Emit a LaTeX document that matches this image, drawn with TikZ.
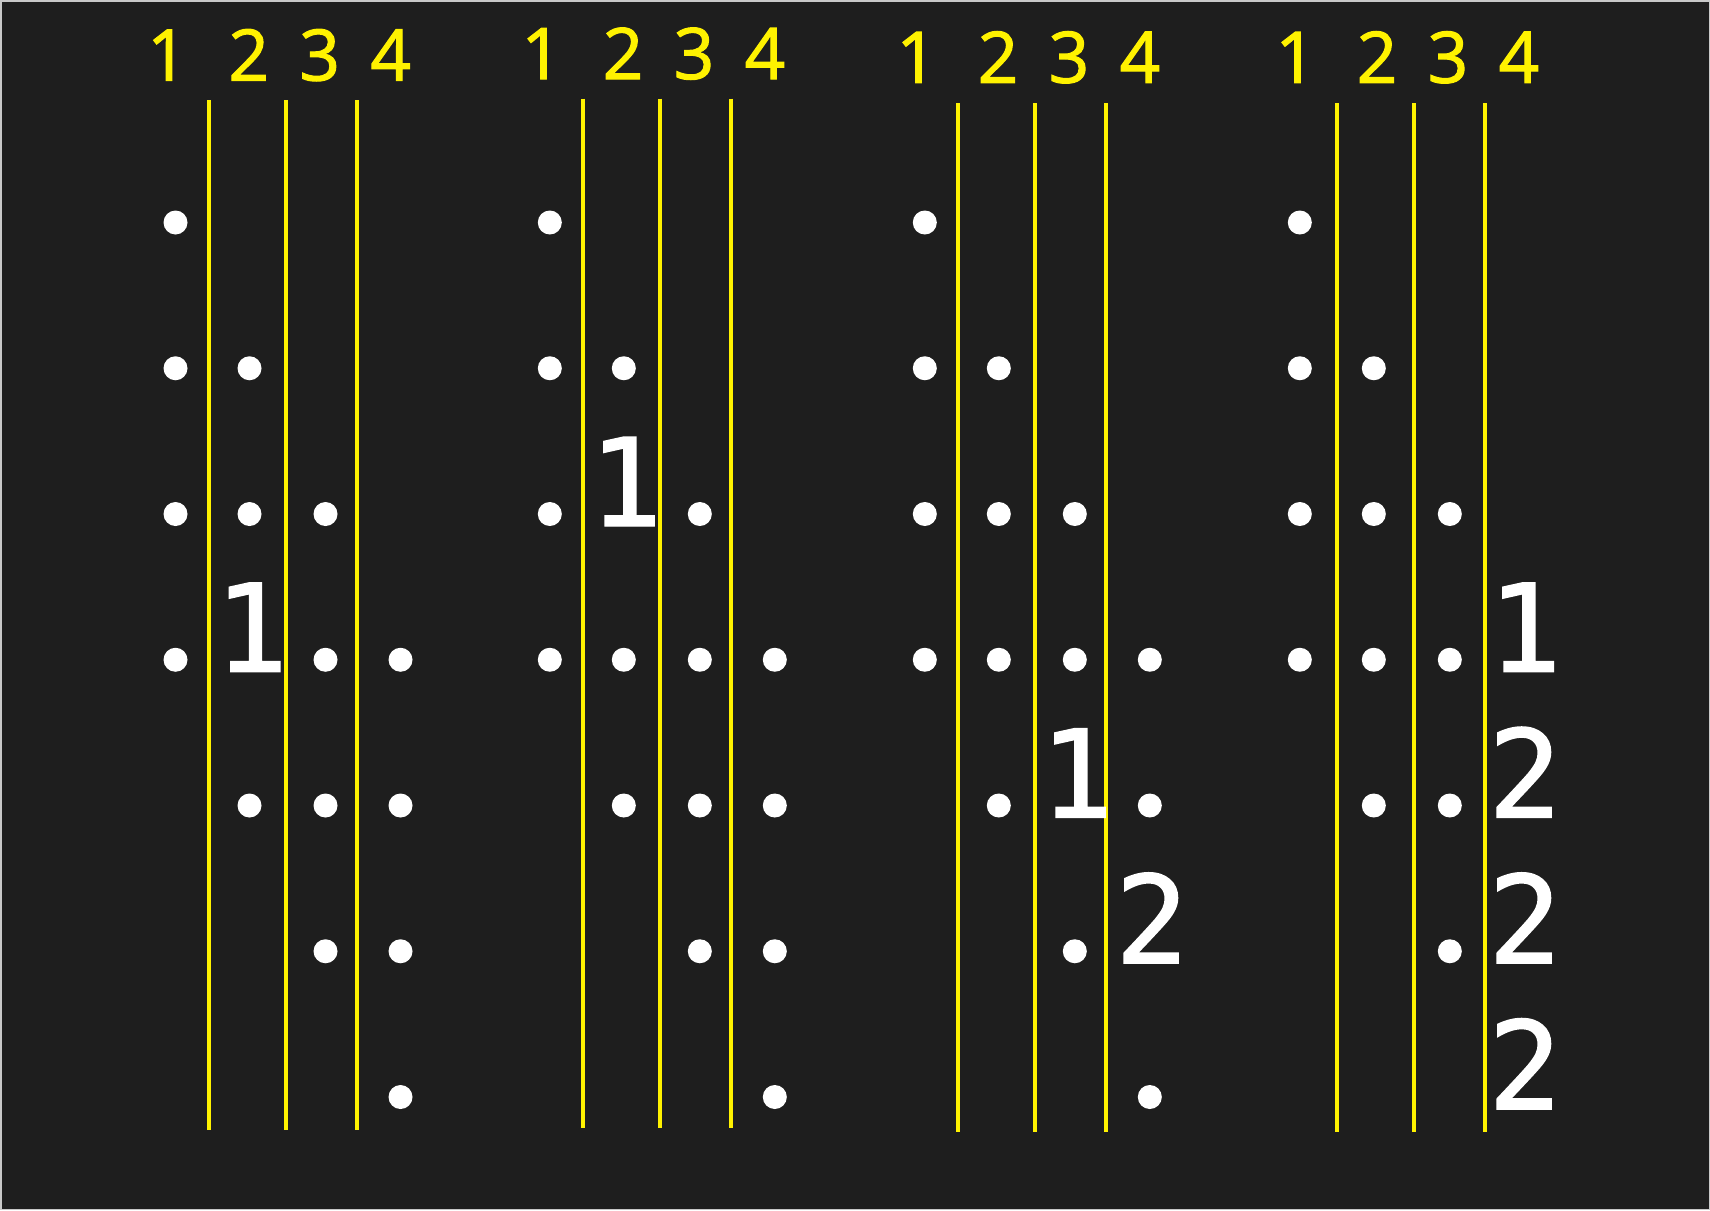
\documentclass[tikz,border=0pt]{standalone}
\usepackage{fontspec}
\newfontfamily\labfont{Open Sans}[FakeBold=1.6]
\newfontfamily\digfont{DejaVu Sans Mono}[FakeBold=1.2]
\definecolor{bg}{HTML}{1E1E1E}
\definecolor{edgegray}{HTML}{C8C8C8}
\newcommand\mydots[3]{%
  \foreach \c/\r in {#3}{%
    \pgfmathsetmacro\cx{#2+{-33.5,40.5,116.5,191.5}[\c-1]}%
    \pgfmathsetmacro\cy{222.5+145.75*(\r-1)}%
    \node[dot] (p#1c\c r\r) at (\cx,\cy) {};
  }}
\newcommand\mydigits[3]{%
  \foreach \c/\r/\d in {#3}{%
    \pgfmathsetmacro\cx{#2+{-33.5,40.5,116.5,191.5}[\c-1]+2}%
    \pgfmathsetmacro\cy{222.5+145.75*(\r-1)+12}%
    \node[bigdigit] (p#1c\c r\r) at (\cx,\cy) {\d};
  }}
\newcommand\mylabels[3]{%
  \foreach \i/\o in {1/-41.6,2/39.7,3/110.7,4/181.7}{%
    \node[headlab] (p#1h\i) at (#2+\o,#3) {\i};
  }}
\newcommand\mylines[4]{%
  \foreach \i/\o in {1/0,2/77,3/148}{%
    \coordinate (p#1t\i) at (#2+\o,#3);
    \coordinate (p#1b\i) at (#2+\o,#4);
    \draw[divider] (p#1t\i) -- (p#1b\i);
  }}
\begin{document}
\begin{tikzpicture}[x=1pt,y=-1pt,
  dot/.style={circle,fill=white,draw=none,inner sep=0pt,minimum size=24pt},
  divider/.style={draw=yellow,line width=4pt},
  headlab/.style={text=yellow,font=\labfont\fontsize{71}{71}\selectfont,anchor=base,inner sep=0pt,outer sep=0pt},
  bigdigit/.style={text=white,font=\digfont\fontsize{122}{122}\selectfont,anchor=base,inner sep=0pt,outer sep=0pt}]
\fill[bg] (0,0) rectangle (1710,1210);
\draw[edgegray,line width=1.5pt] (0.75,0.75) rectangle (1709.25,1209.25);
\useasboundingbox (0,0) rectangle (1710,1210);

% panel 1
\mylabels{1}{209}{80.5}
\mylines{1}{209}{100}{1130}
\mydots{1}{209}{1/1,1/2,1/3,1/4,2/2,2/3,2/5,3/3,3/4,3/5,3/6,4/4,4/5,4/6,4/7}
\mydigits{1}{209}{2/4/1}

% panel 2
\mylabels{2}{583.3}{79}
\mylines{2}{583.3}{98.7}{1127.7}
\mydots{2}{583.3}{1/1,1/2,1/3,1/4,2/2,2/4,2/5,3/3,3/4,3/5,3/6,4/4,4/5,4/6,4/7}
\mydigits{2}{583.3}{2/3/1}

% panel 3
\mylabels{3}{958.3}{82.7}
\mylines{3}{958.3}{103.3}{1132}
\mydots{3}{958.3}{1/1,1/2,1/3,1/4,2/2,2/3,2/4,2/5,3/3,3/4,3/6,4/4,4/5,4/7}
\mydigits{3}{958.3}{3/5/1,4/6/2}

% panel 4
\mylabels{4}{1337.3}{82.7}
\mylines{4}{1337.3}{103.3}{1131.7}
\mydots{4}{1333.3}{1/1,1/2,1/3,1/4,2/2,2/3,2/4,2/5,3/3,3/4,3/5,3/6}
\mydigits{4}{1331.3}{4/4/1,4/5/2,4/6/2,4/7/2}
\end{tikzpicture}
\end{document}
